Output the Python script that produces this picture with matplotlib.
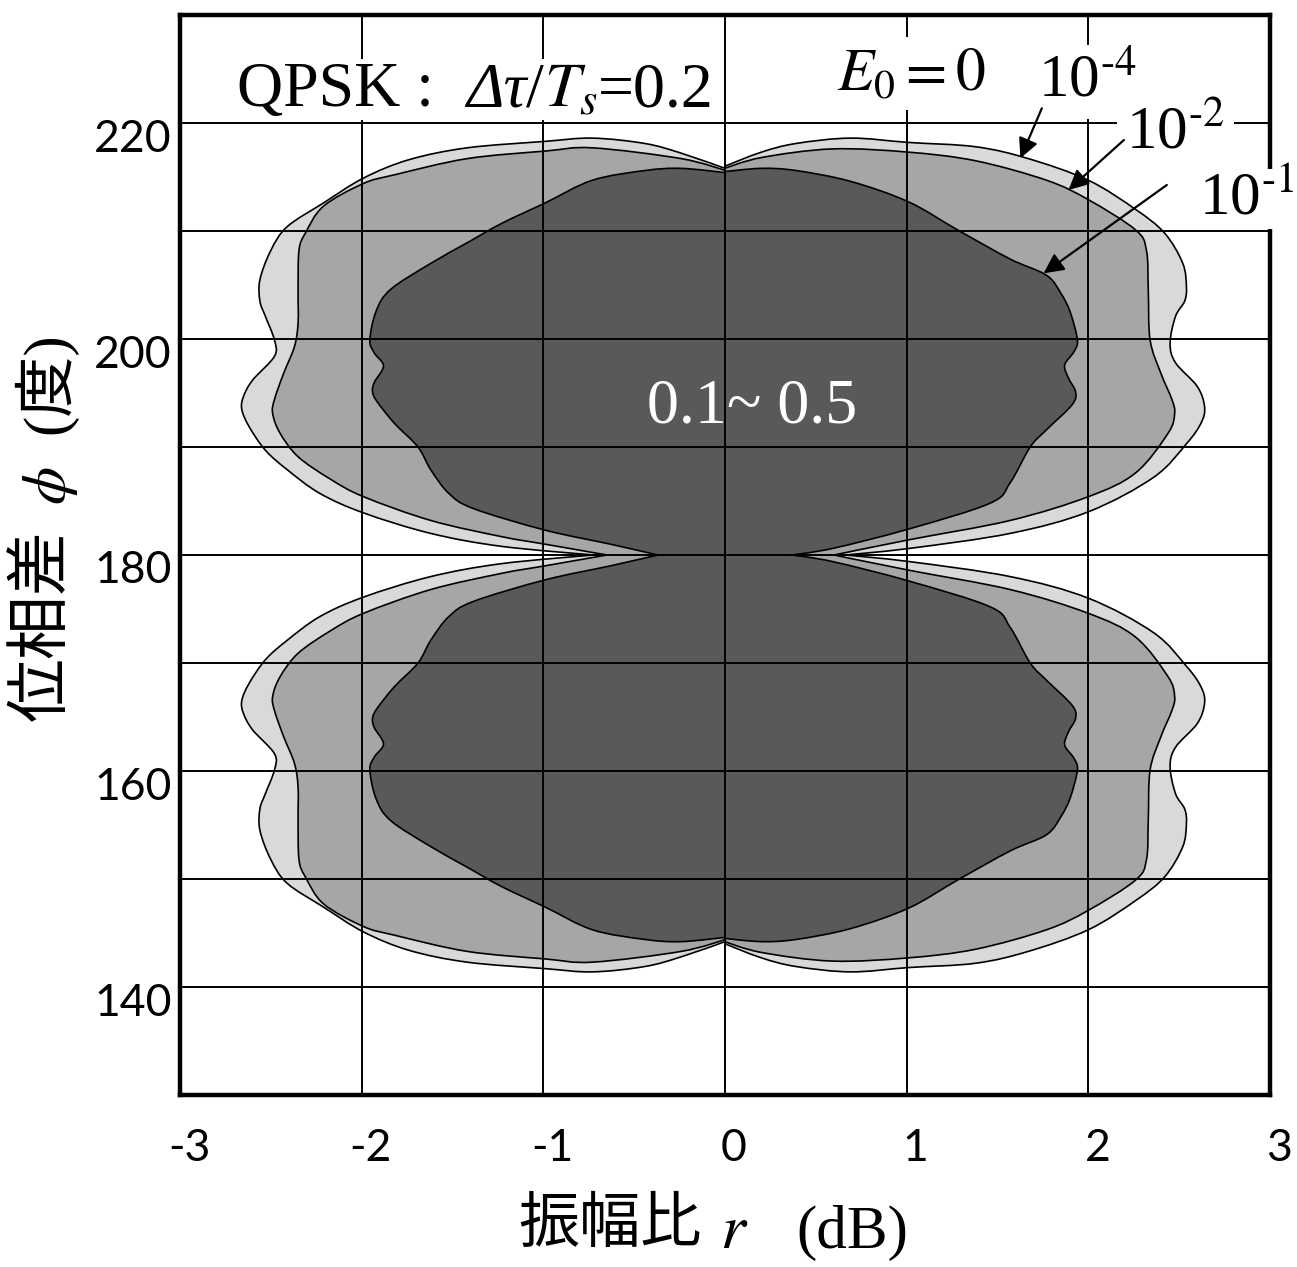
import numpy as np
import matplotlib.pyplot as plt
from matplotlib.patches import PathPatch
from matplotlib.path import Path
from matplotlib.ticker import FixedLocator
from matplotlib.transforms import ScaledTranslation
from matplotlib.offsetbox import TextArea, HPacker, AnnotationBbox

plt.rcParams['mathtext.fontset'] = 'stix'
plt.rcParams['font.family'] = ['Lato', 'DejaVu Sans']

# 上半分 (phi >= 180) の境界. 下半分は 180° で折り返して作る
# E0 = 1e-4
r_e4_left = [0.00, -0.24, -0.44, -0.73, -0.99, -1.42, -1.74, -1.99, -2.21, -2.41, -2.50, -2.56,
             -2.56, -2.53, -2.48, -2.48, -2.60, -2.65, -2.66, -2.62, -2.53, -2.41, -2.23, -1.99,
             -1.62, -1.23, -0.72]
phi_e4_left = [215.8, 217.2, 218.1, 218.6, 218.3, 217.7, 216.6, 214.9, 212.6, 210.4, 208.2, 205.5,
               203.5, 202.1, 199.9, 198.4, 196.2, 194.7, 193.5, 191.9, 189.7, 187.9, 185.7, 183.9,
               182.0, 180.8, 180.0]
r_e4_right = [0.00, 0.20, 0.39, 0.69, 1.01, 1.38, 1.67, 2.00, 2.26, 2.42, 2.52, 2.54,
              2.53, 2.48, 2.45, 2.48, 2.60, 2.64, 2.62, 2.54, 2.36, 2.00, 1.57, 1.01, 0.66]
phi_e4_right = [216.0, 217.3, 218.1, 218.6, 218.2, 217.8, 216.7, 214.7, 212.0, 209.8, 207.0, 204.8,
                203.5, 202.1, 199.6, 197.8, 195.6, 193.7, 192.2, 190.3, 187.2, 184.0, 182.0, 180.6, 180.0]

# E0 = 1e-2
r_e2_left = [0.00, -0.24, -0.73, -0.99, -1.42, -1.82, -1.99, -2.21, -2.31, -2.345, -2.35, -2.35,
             -2.37, -2.43, -2.48, -2.49, -2.45, -2.35, -2.17, -1.99, -1.62, -1.23, -0.99, -0.65]
phi_e2_left = [215.6, 216.7, 217.7, 217.4, 216.7, 215.2, 214.4, 212.3, 209.8, 208.2, 204.5, 201.5,
               199.3, 196.8, 194.4, 193.1, 191.3, 189.1, 187.0, 185.4, 183.2, 181.7, 181.0, 180.0]
r_e2_right = [0.00, 0.20, 0.59, 1.01, 1.38, 1.77, 2.00, 2.26, 2.32, 2.33, 2.34, 2.40,
              2.46, 2.475, 2.44, 2.26, 2.00, 1.57, 1.01, 0.60]
phi_e2_right = [215.8, 216.8, 217.6, 217.3, 216.5, 214.7, 212.9, 210.1, 208.2, 204.5, 199.9, 196.8,
                194.4, 193.1, 191.3, 187.6, 185.4, 183.2, 181.4, 180.0]

# E0 = 1e-1
r_e1_left = [0.00, -0.24, -0.44, -0.73, -0.99, -1.23, -1.42, -1.62, -1.84, -1.92, -1.955, -1.93,
             -1.88, -1.93, -1.94, -1.915, -1.82, -1.69, -1.62, -1.52, -1.385, -0.99, -0.63, -0.37]
phi_e1_left = [215.4, 215.8, 215.6, 214.7, 212.6, 210.7, 208.9, 207.0, 204.6, 202.6, 199.9, 198.7,
               197.5, 196.0, 195.1, 194.2, 192.2, 190.0, 187.9, 185.7, 184.3, 182.3, 181.0, 180.0]
r_e1_right = [0.00, 0.20, 0.39, 0.69, 1.01, 1.28, 1.57, 1.77, 1.85, 1.90, 1.94, 1.92,
              1.87, 1.89, 1.93, 1.91, 1.77, 1.68, 1.57, 1.46, 1.01, 0.59, 0.364]
phi_e1_right = [215.5, 215.8, 215.6, 214.6, 212.7, 210.1, 207.4, 205.9, 204.2, 202.5, 199.9, 198.8,
                197.6, 196.4, 195.1, 193.9, 191.6, 190.0, 186.7, 184.8, 182.4, 180.6, 180.0]

levels = [
    (r_e4_left, phi_e4_left, r_e4_right, phi_e4_right, '#d9d9d9'),
    (r_e2_left, phi_e2_left, r_e2_right, phi_e2_right, '#a6a6a6'),
    (r_e1_left, phi_e1_left, r_e1_right, phi_e1_right, '#595959'),
]


def outline(r_l, p_l, r_r, p_r):
    r_l, p_l, r_r, p_r = map(np.asarray, (r_l, p_l, r_r, p_r))
    n, m = len(r_l), len(r_r)
    # 上左 -> 下左 -> 下右 -> 上右 の順に一周
    xs = np.concatenate([r_l, r_l[-2::-1], r_r, r_r[-2::-1]])
    ys = np.concatenate([p_l, 360 - p_l[-2::-1], 360 - p_r, p_r[-2::-1]])
    corners = {0, n - 1, 2 * n - 2, 2 * n - 1, 2 * n - 2 + m, 2 * n + 2 * m - 3}
    return np.column_stack([xs, ys]), corners


def smooth_path(pts, corners):
    # 点列を滑らかな閉曲線 (3次ベジェ) で結ぶ. 尖り点はそのまま
    n = len(pts)
    tang = np.zeros_like(pts)
    for i in range(n):
        if i not in corners:
            tang[i] = (pts[(i + 1) % n] - pts[i - 1]) / 2
    verts = [pts[0]]
    codes = [Path.MOVETO]
    for i in range(n):
        j = (i + 1) % n
        verts += [pts[i] + tang[i] / 3, pts[j] - tang[j] / 3, pts[j]]
        codes += [Path.CURVE4] * 3
    verts.append(pts[0])
    codes.append(Path.CLOSEPOLY)
    return Path(verts, codes)


W, H = 1297, 1267
fig = plt.figure(figsize=(W / 100, H / 100), dpi=100)
ax = fig.add_axes([180 / W, 1 - 1095 / H, 1090 / W, 1080 / H])

for r_l, p_l, r_r, p_r, col in levels:
    pts, corners = outline(r_l, p_l, r_r, p_r)
    ax.add_patch(PathPatch(smooth_path(pts, corners), fc=col, ec='black', lw=1.2, zorder=1))

ax.set_xlim(-3, 3)
ax.set_ylim(130, 230)
ax.xaxis.set_major_locator(FixedLocator([-3, -2, -1, 0, 1, 2, 3]))
ax.yaxis.set_major_locator(FixedLocator([140, 160, 180, 200, 220]))
ax.yaxis.set_minor_locator(FixedLocator([150, 170, 190, 210]))
ax.set_xticklabels(['-3', '-2', '-1', '0', '1', '2', '3'])
ax.set_axisbelow(False)
ax.grid(True, which='both', color='black', lw=1.4)
ax.tick_params(which='both', length=0, labelsize=32)
ax.tick_params(axis='x', pad=24)
ax.tick_params(axis='y', pad=6)
for sp in ax.spines.values():
    sp.set_linewidth(3.2)

for lab in ax.get_xticklabels():
    lab.set_transform(lab.get_transform() + ScaledTranslation(0.09, 0, fig.dpi_scale_trans))
for lab in ax.get_yticklabels():
    lab.set_transform(lab.get_transform() + ScaledTranslation(0, -0.12, fig.dpi_scale_trans))

serif = ['Liberation Serif', 'DejaVu Serif']
box = dict(boxstyle='square,pad=0.15', fc='white', ec='none')

# 条件の表示 (Δτ は斜体)
parts = [TextArea('QPSK :  ', textprops=dict(family=serif, size=46)),
         TextArea('Δτ', textprops=dict(family=serif, size=46, style='italic')),
         TextArea('/', textprops=dict(family=serif, size=46)),
         TextArea(r'$T_s$', textprops=dict(size=46)),
         TextArea('=0.2', textprops=dict(family=serif, size=46))]
title = HPacker(children=parts, align='baseline', pad=0, sep=0)
ax.add_artist(AnnotationBbox(title, (-2.686, 220.25), xycoords='data', box_alignment=(0, 0),
                             frameon=True, pad=0.0, bboxprops=dict(fc='white', ec='none'),
                             zorder=5))

ax.text(0.614, 223.06, r'$E_0 = 0$', size=43, ha='left', va='baseline', bbox=box, zorder=5)
ax.text(1.723, 222.41, r'10$^{\text{-}4}$', family=serif, size=44, ha='left', va='baseline',
        bbox=box, zorder=5)
ax.text(2.207, 217.69, r'10$^{\text{-}2}$', family=serif, size=44, ha='left', va='baseline',
        bbox=box, zorder=5)
ax.text(2.609, 211.57, r'10$^{\text{-}1}$', family=serif, size=44, ha='left', va='baseline',
        bbox=dict(boxstyle='square,pad=0.04', fc='white', ec='none'), zorder=5)
ax.text(0.149, 192.25, '0.1~ 0.5', family=serif, size=46, color='white', ha='center',
        va='baseline', zorder=5)

arrows = [((1.744, 221.36), (1.626, 216.73)),
          ((2.196, 218.43), (1.891, 213.80)),
          ((2.432, 214.26), (1.754, 206.08))]
for tail, head in arrows:
    ax.annotate('', xy=head, xytext=tail,
                arrowprops=dict(arrowstyle='-|>', color='black', lw=1.6, mutation_scale=30,
                                shrinkA=0, shrinkB=0), zorder=6)

# 軸ラベル
fig.text(610 / W, 1 - 1225 / H, '振幅比', family=['Noto Sans CJK JP'], size=44, ha='center', va='center')
fig.text(734 / W, 1 - 1248 / H, r'$r$', size=46, ha='center', va='baseline')
fig.text(852 / W, 1 - 1248 / H, '(dB)', family=serif, size=44, ha='center', va='baseline')

fig.text(42 / W, 1 - 625 / H, '位相差', family=['Noto Sans CJK JP'], size=46, rotation=90,
         ha='center', va='center')
fig.text(50 / W, 1 - 486 / H, r'$\phi$', size=44, rotation=90, ha='center', va='center')
fig.text(45 / W, 1 - 383 / H, '(度)', family=['Liberation Serif', 'Noto Sans CJK JP'], size=44,
         rotation=90, ha='center', va='center')

fig.savefig('out.png', dpi=100)
